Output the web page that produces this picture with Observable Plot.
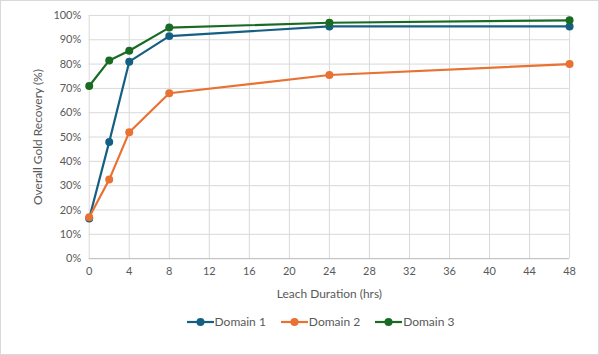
<!DOCTYPE html>
<html><head><meta charset="utf-8">
<script src="https://cdn.jsdelivr.net/npm/d3@7"></script>
<script src="https://cdn.jsdelivr.net/npm/@observablehq/plot@0.6"></script>
<style>
body{margin:0;background:#fff;font-family:Lato,"Noto Sans",sans-serif;}
#wrap{position:relative;width:599px;height:355px;box-sizing:border-box;border:1px solid #d9d9d9;background:#fff;}
#legend{position:absolute;top:313px;left:20px;width:599px;display:flex;justify-content:center;gap:15px;font-size:12px;color:#595959;}
.item{display:flex;align-items:center;gap:1px;}
</style></head>
<body><div id="wrap"><div id="chart"></div><div id="legend"></div></div>
<script>
const hours = [0, 2, 4, 8, 24, 48];
const domain1 = [16.5, 48, 81, 91.5, 95.5, 95.5];
const domain2 = [17, 32.5, 52, 68, 75.5, 80];
const domain3 = [71, 81.5, 85.5, 95, 97, 98];
const seriesNames = ["Domain 1", "Domain 2", "Domain 3"];
const colors = ["#156082", "#E97132", "#196B24"];
const xTicks = d3.range(0, 49, 4);
const yTicks = d3.range(0, 101, 10);

const all = [domain1, domain2, domain3];
const data = [];
seriesNames.forEach((s, i) => hours.forEach((h, j) => data.push({series: s, hours: h, value: all[i][j]})));

const plot = Plot.plot({
  width: 599, height: 305,
  marginLeft: 88, marginRight: 29, marginTop: 14, marginBottom: 47,
  style: {fontFamily: "Lato, 'Noto Sans', sans-serif", fontSize: "11px", color: "#595959", background: "transparent"},
  x: {domain: [0, 48], ticks: xTicks, tickSize: 0, tickPadding: 9, label: "Leach Duration (hrs)", labelAnchor: "center", labelArrow: "none", labelOffset: 40},
  y: {domain: [0, 100], ticks: yTicks, tickSize: 0, tickPadding: 8, tickFormat: d => d + "%", label: "Overall Gold Recovery (%)", labelAnchor: "center", labelArrow: "none", labelOffset: 56},
  color: {domain: seriesNames, range: colors},
  marks: [
    Plot.gridY(yTicks, {stroke: "#d9d9d9", strokeOpacity: 1, strokeWidth: 1}),
    Plot.gridX(xTicks, {stroke: "#d9d9d9", strokeOpacity: 1, strokeWidth: 1}),
    Plot.ruleY([0], {stroke: "#bfbfbf"}),
    Plot.line(data, {x: "hours", y: "value", z: "series", stroke: "series", strokeWidth: 2.2}),
    Plot.dot(data, {x: "hours", y: "value", fill: "series", r: 4})
  ]
});
document.getElementById("chart").appendChild(plot);
plot.querySelectorAll("[aria-label='x-axis label'] text, [aria-label='y-axis label'] text").forEach(t => t.style.fontSize = "12px");

const lg = document.getElementById("legend");
seriesNames.forEach((s, i) => {
  const it = document.createElement("div"); it.className = "item";
  it.innerHTML = `<svg width="27" height="10"><line x1="0" y1="5" x2="27" y2="5" stroke="${colors[i]}" stroke-width="2.2"/><circle cx="13.5" cy="5" r="4" fill="${colors[i]}"/></svg><span>${s}</span>`;
  lg.appendChild(it);
});
</script></body></html>
